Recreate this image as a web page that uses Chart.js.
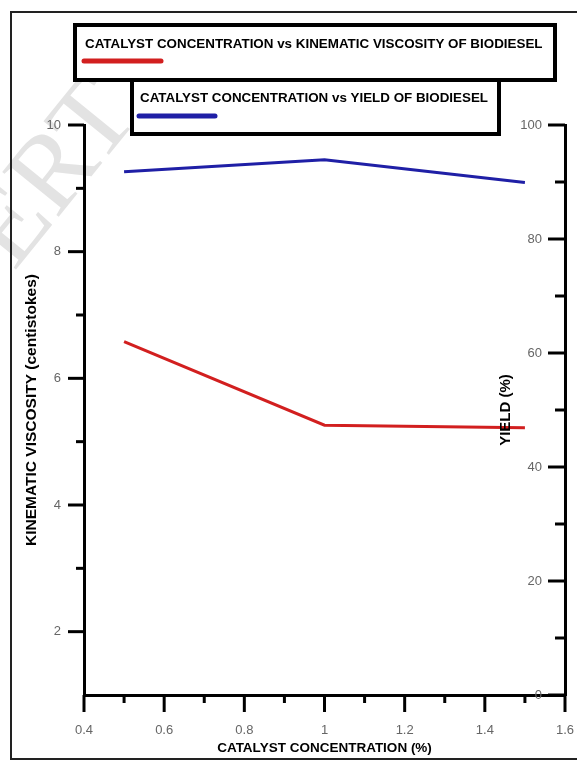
<!DOCTYPE html>
<html>
<head>
<meta charset="utf-8">
<script src="https://cdn.jsdelivr.net/npm/chart.js@4.4.1/dist/chart.umd.min.js"></script>
<style>
  html, body { margin: 0; padding: 0; background: #fff; }
  #wrap { width: 577px; height: 762px; position: relative; }
</style>
</head>
<body>
<div id="wrap"><canvas id="c" width="577" height="762"></canvas></div>
<script>
// ---- data ----
const catalystConc = [0.5, 1.0, 1.5];          // catalyst concentration (%)
const kinematicViscosity = [6.58, 5.26, 5.22];  // centistokes (left axis)
const biodieselYield = [91.8, 93.9, 89.9];      // % (right axis)

const xTickValues = [0.4, 0.6, 0.8, 1, 1.2, 1.4, 1.6];
const leftTickValues = [2, 4, 6, 8, 10];
const rightTickValues = [0, 20, 40, 60, 80, 100];

const seriesLabels = [
  'CATALYST CONCENTRATION vs KINEMATIC VISCOSITY OF BIODIESEL',
  'CATALYST CONCENTRATION vs YIELD OF BIODIESEL'
];
const xTitle = 'CATALYST CONCENTRATION (%)';
const leftTitle = 'KINEMATIC VISCOSITY (centistokes)';
const rightTitle = 'YIELD (%)';

const RED = '#d21f1f';
const BLUE = '#1f1fa6';
const TICK_FONT = '"Liberation Sans Narrow", "Liberation Sans", Arial, sans-serif';
const BOLD_FONT = '"Liberation Sans", Arial, sans-serif';

function isMajor(v, list) { return list.some(m => Math.abs(m - v) < 1e-6); }

const decorPlugin = {
  id: 'decor',
  beforeDraw(chart) {
    const ctx = chart.ctx;
    ctx.save();
    ctx.fillStyle = '#fff';
    ctx.fillRect(0, 0, chart.width, chart.height);
    // watermark
    ctx.translate(14, 272);
    ctx.rotate(-51 * Math.PI / 180);
    ctx.font = '110px "Liberation Serif", serif';
    ctx.fillStyle = '#e3e3e3';
    ctx.fillText('ERT', 0, 0);
    ctx.restore();
    // outer frame
    ctx.save();
    ctx.strokeStyle = '#222';
    ctx.lineWidth = 2;
    ctx.strokeRect(11, 12, 640, 747);
    ctx.restore();
  },
  afterDraw(chart) {
    const ctx = chart.ctx;
    const a = chart.chartArea;
    const sx = chart.scales.x, sy = chart.scales.y, sy1 = chart.scales.y1;
    ctx.save();
    ctx.strokeStyle = '#000';
    ctx.lineWidth = 3;
    ctx.lineCap = 'butt';
    const seg = (x1, y1, x2, y2) => { ctx.beginPath(); ctx.moveTo(x1, y1); ctx.lineTo(x2, y2); ctx.stroke(); };
    sx.ticks.forEach(t => {
      const p = sx.getPixelForValue(t.value);
      seg(p, a.bottom, p, a.bottom + (isMajor(t.value, xTickValues) ? 17 : 8));
    });
    sy.ticks.forEach(t => {
      if (t.value <= 1) return;
      const p = sy.getPixelForValue(t.value);
      seg(a.left, p, a.left - (isMajor(t.value, leftTickValues) ? 16 : 8), p);
    });
    sy1.ticks.forEach(t => {
      const p = sy1.getPixelForValue(t.value);
      seg(a.right, p, a.right - (isMajor(t.value, rightTickValues) ? 17 : 10), p);
    });
    // right axis title (inside plot)
    ctx.save();
    ctx.translate(506, 410);
    ctx.rotate(-Math.PI / 2);
    ctx.fillStyle = '#000';
    ctx.font = 'bold 15px ' + BOLD_FONT;
    ctx.textAlign = 'center';
    ctx.textBaseline = 'middle';
    ctx.fillText(rightTitle, 0, 0);
    ctx.restore();

    // legend boxes
    const boxes = [
      { x: 75, y: 25, w: 480, h: 55, tx: 85, ty: 44, tw: 458, lx1: 84, lx2: 161, ly: 61, color: chart.data.datasets[0].borderColor, text: chart.data.datasets[0].label },
      { x: 132, y: 80, w: 367, h: 54, tx: 140, ty: 98, tw: 348, lx1: 139, lx2: 215, ly: 116, color: chart.data.datasets[1].borderColor, text: chart.data.datasets[1].label }
    ];
    boxes.forEach(b => {
      ctx.fillStyle = '#fff';
      ctx.fillRect(b.x, b.y, b.w, b.h);
      ctx.strokeStyle = '#000';
      ctx.lineWidth = 4;
      ctx.strokeRect(b.x, b.y, b.w, b.h);
      ctx.fillStyle = '#000';
      ctx.font = 'bold 13.4px ' + BOLD_FONT;
      ctx.textAlign = 'left';
      ctx.textBaseline = 'middle';
      ctx.fillText(b.text, b.tx, b.ty, b.tw);
      ctx.strokeStyle = b.color;
      ctx.lineWidth = 5;
      ctx.lineCap = 'round';
      seg(b.lx1, b.ly, b.lx2, b.ly);
      ctx.lineCap = 'butt';
    });
    ctx.restore();
  }
};

new Chart(document.getElementById('c'), {
  type: 'line',
  data: {
    datasets: [
      {
        label: seriesLabels[0],
        data: catalystConc.map((x, i) => ({ x, y: kinematicViscosity[i] })),
        borderColor: RED, backgroundColor: RED, borderWidth: 3,
        pointRadius: 0, tension: 0, yAxisID: 'y'
      },
      {
        label: seriesLabels[1],
        data: catalystConc.map((x, i) => ({ x, y: biodieselYield[i] })),
        borderColor: BLUE, backgroundColor: BLUE, borderWidth: 3,
        pointRadius: 0, tension: 0, yAxisID: 'y1'
      }
    ]
  },
  options: {
    responsive: false,
    animation: false,
    devicePixelRatio: 1,
    layout: { padding: { top: 125, left: 0, right: 0, bottom: 0 } },
    plugins: { legend: { display: false }, tooltip: { enabled: false } },
    scales: {
      x: {
        type: 'linear', min: 0.4, max: 1.6,
        afterBuildTicks: s => { s.ticks = []; for (let i = 4; i <= 16; i++) s.ticks.push({ value: i / 10 }); },
        ticks: {
          autoSkip: false, maxRotation: 0, padding: 28, color: '#666',
          font: { family: TICK_FONT, size: 13 },
          callback: v => isMajor(v, xTickValues) ? String(Math.round(v * 10) / 10) : ''
        },
        grid: { display: false, drawTicks: false },
        border: { display: true, color: '#000', width: 3 },
        title: { display: true, text: xTitle, color: '#000', font: { family: BOLD_FONT, size: 13.5, weight: 'bold' }, padding: { top: 0, bottom: 6 } },
        afterFit: s => { s.height = 67; s.paddingRight = 0; s.paddingLeft = 0; }
      },
      y: {
        type: 'linear', position: 'left', min: 1, max: 10,
        afterBuildTicks: s => { s.ticks = []; for (let i = 1; i <= 10; i++) s.ticks.push({ value: i }); },
        ticks: {
          autoSkip: false, padding: 23, color: '#666',
          font: { family: TICK_FONT, size: 13 },
          callback: v => isMajor(v, leftTickValues) ? String(v) : ''
        },
        grid: { display: false, drawTicks: false },
        border: { display: true, color: '#000', width: 3 },
        title: { display: true, text: leftTitle, color: '#000', font: { family: BOLD_FONT, size: 15.5, weight: 'bold' }, padding: { top: 22, bottom: 0 } },
        afterFit: s => { s.width = 84; s.paddingTop = 0; s.paddingBottom = 0; }
      },
      y1: {
        type: 'linear', position: 'right', min: 0, max: 100,
        afterBuildTicks: s => { s.ticks = []; for (let i = 0; i <= 100; i += 10) s.ticks.push({ value: i }); },
        ticks: {
          autoSkip: false, mirror: true, padding: -23, color: '#666',
          font: { family: TICK_FONT, size: 13 },
          callback: v => isMajor(v, rightTickValues) ? String(v) : ''
        },
        grid: { display: false, drawTicks: false },
        border: { display: true, color: '#000', width: 3 },
        afterFit: s => { s.width = 12; s.paddingTop = 0; s.paddingBottom = 0; }
      }
    }
  },
  plugins: [decorPlugin]
});
</script>
</body>
</html>
